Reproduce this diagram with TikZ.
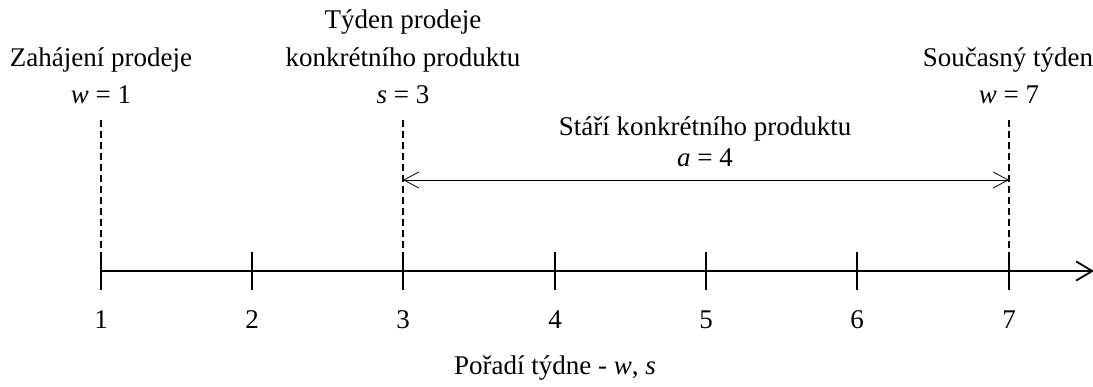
\documentclass[tikz,border=0pt]{standalone}
\usepackage{fontspec}
\setmainfont{Liberation Serif}
\usetikzlibrary{arrows.meta}
\begin{document}
\begin{tikzpicture}[x=1pt,y=-1pt,
  lbl/.style={font=\fontsize{27}{33}\selectfont, inner sep=0pt, anchor=base},
  axisline/.style={line width=1.8pt, -{Straight Barb[length=16pt,width=19pt]}},
  tickline/.style={line width=1.8pt},
  guide/.style={line width=1.3pt, dash pattern=on 7pt off 4pt},
  span/.style={line width=0.8pt, {Straight Barb[length=15pt,width=16pt]}-{Straight Barb[length=15pt,width=16pt]}}
]
\useasboundingbox (0,0) rectangle (1093,387);
% axis
\coordinate (ax0) at (101,271);
\coordinate (ax1) at (1094,271);
\draw[axisline] (ax0) -- (ax1);
% ticks and numbers
\foreach \i/\x in {1/101,2/252,3/403,4/555,5/706,6/857,7/1009} {
  \coordinate (t\i) at (\x,271);
  \coordinate (tt\i) at (\x,252);
  \coordinate (tb\i) at (\x,290);
  \draw[tickline] (tt\i) -- (tb\i);
  \node[lbl] (n\i) at (\x,329) {\i};
}
% guides
\coordinate (g1) at (101,120);
\coordinate (g3) at (403,120);
\coordinate (g7) at (1009,120);
\draw[guide] (g1) -- (t1);
\draw[guide] (g3) -- (t3);
\draw[guide] (g7) -- (t7);
% age span
\coordinate (a3) at (403,180);
\coordinate (a7) at (1009,180);
\draw[span] (a3) -- (a7);
% labels
\node[lbl] (l1a) at (101,67) {Zahájení prodeje};
\node[lbl] (l1b) at (101,104) {\textit{w} = 1};
\node[lbl] (l3a) at (403,29) {Týden prodeje};
\node[lbl] (l3b) at (403,67) {konkrétního produktu};
\node[lbl] (l3c) at (403,104) {\textit{s} = 3};
\node[lbl] (l7a) at (1008,67) {Současný týden};
\node[lbl] (l7b) at (1009,104) {\textit{w} = 7};
\node[lbl] (la1) at (705,136) {Stáří konkrétního produktu};
\node[lbl] (la2) at (705,167) {\textit{a} = 4};
\node[lbl] (xl) at (555,375) {Pořadí týdne - \textit{w}, \textit{s}};
\end{tikzpicture}
\end{document}
